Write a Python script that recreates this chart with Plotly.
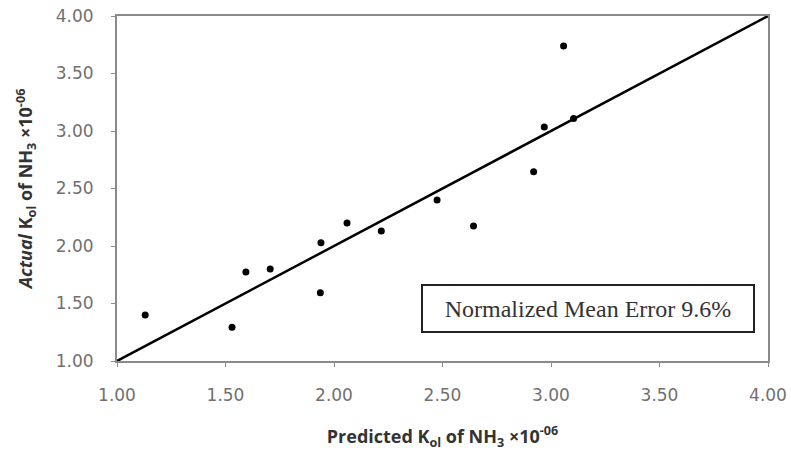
import plotly.graph_objects as go

predicted = [1.13, 1.53, 1.594, 1.706, 1.937, 1.94, 2.06, 2.218, 2.475, 2.643, 2.92, 2.969, 3.058, 3.104]
actual = [1.40, 1.293, 1.773, 1.80, 1.593, 2.028, 2.20, 2.13, 2.40, 2.173, 2.645, 3.035, 3.74, 3.108]
line_x = [1.0, 4.0]
line_y = [1.0, 4.0]
tick_vals = [1.0, 1.5, 2.0, 2.5, 3.0, 3.5, 4.0]
tick_text = ["1.00", "1.50", "2.00", "2.50", "3.00", "3.50", "4.00"]

fig = go.Figure()
fig.add_trace(go.Scatter(x=line_x, y=line_y, mode="lines",
                         line=dict(color="black", width=2.5), showlegend=False))
fig.add_trace(go.Scatter(x=predicted, y=actual, mode="markers",
                         marker=dict(color="black", size=7), showlegend=False))

axis_common = dict(
    range=[1, 4], tickvals=tick_vals, ticktext=tick_text,
    showgrid=False, zeroline=False,
    showline=True, linecolor="#8a8a8a", linewidth=2, mirror=True,
    ticks="outside", ticklen=4, tickcolor="#8a8a8a",
    tickfont=dict(family="DejaVu Sans", size=17, color="#707070"),
    automargin=False,
)

fig.update_xaxes(**axis_common, ticklabelstandoff=14,
                 title=dict(text="<b>Predicted K<sub>ol</sub> of NH<sub>3</sub> ×10<sup>-06</sup></b>",
                            font=dict(family="Open Sans", size=18, color="#333333"), standoff=26))
fig.update_yaxes(**axis_common, ticklabelstandoff=14,
                 title=dict(text="<b><i>Actual</i> K<sub>ol</sub> of NH<sub>3</sub> ×10<sup>-06</sup></b>",
                            font=dict(family="Open Sans", size=18, color="#333333"), standoff=18))

fig.add_annotation(x=0.724, y=0.151, xref="paper", yref="paper",
                   xanchor="center", yanchor="middle",
                   text="Normalized Mean Error 9.6%", showarrow=False,
                   font=dict(family="Liberation Serif", size=24, color="#333333"),
                   bordercolor="#222222", borderwidth=2, borderpad=10,
                   bgcolor="white", width=310, height=25)

fig.update_layout(width=791, height=455,
                  margin=dict(l=117, r=23, t=16, b=94, autoexpand=False),
                  plot_bgcolor="white", paper_bgcolor="white")

fig.write_html("out.html")
